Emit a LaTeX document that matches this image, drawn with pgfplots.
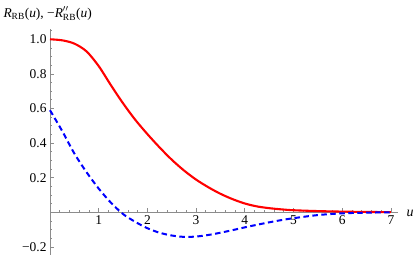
\documentclass[border=0pt]{standalone}
\usepackage{pgfplots}
\pgfplotsset{compat=1.18}
\usepackage{amsmath}
\usepackage{fontspec}
\setmainfont{Liberation Serif}
\definecolor{axgray}{gray}{0.55}
\pgfplotstableread{
u R
0 1.000
0.25 0.994
0.5 0.975
0.75 0.930
1.0 0.845
1.25 0.735
1.5 0.630
1.75 0.535
2.0 0.452
2.25 0.375
2.5 0.304
2.75 0.242
3.0 0.189
3.25 0.145
3.5 0.107
3.75 0.076
4.0 0.051
4.25 0.034
4.5 0.024
4.75 0.017
5.0 0.012
5.5 0.007
6.0 0.004
6.5 0.002
7.0 0.001
}\redtab
\pgfplotstableread{
u D
0 0.590
0.25 0.470
0.5 0.340
0.75 0.232
1.0 0.137
1.25 0.056
1.5 -0.010
1.75 -0.055
2.0 -0.092
2.25 -0.118
2.5 -0.134
2.75 -0.142
3.0 -0.140
3.25 -0.131
3.5 -0.118
3.75 -0.103
4.0 -0.087
4.25 -0.072
4.5 -0.058
4.75 -0.045
5.0 -0.034
5.5 -0.016
6.0 -0.006
6.5 -0.002
7.0 0.000
}\bluetab
\begin{document}
\begin{tikzpicture}
\begin{axis}[
  name=ax, scale only axis, width=348.2bp, height=225.8bp,
  xmin=0, xmax=7.15, ymin=-0.245, ymax=1.06,
  axis lines=middle,
  axis line style={axgray, line width=0.9bp, -},
  xtick={0,1,2,3,4,5,6,7}, xticklabels={,1,2,3,4,5,6,7},
  ytick={-0.2,0,0.2,0.4,0.6,0.8,1.0},
  yticklabels={−0.2,,0.2,0.4,0.6,0.8,1.0},
  minor xtick={0.2,0.4,0.6,0.8,1.2,1.4,1.6,1.8,2.2,2.4,2.6,2.8,3.2,3.4,3.6,3.8,4.2,4.4,4.6,4.8,5.2,5.4,5.6,5.8,6.2,6.4,6.6,6.8},
  minor ytick={-0.15,-0.1,-0.05,0.05,0.1,0.15,0.25,0.3,0.35,0.45,0.5,0.55,0.65,0.7,0.75,0.85,0.9,0.95,1.05},
  tick align=inside,
  major tick length=4.5bp, minor tick length=2.5bp,
  every tick/.style={axgray, line width=0.7bp},
  tick label style={font=\fontsize{13.5}{15}\selectfont},
  clip=false,
  xlabel={\textit{u}},
  every axis x label/.style={at={(axis cs:7.15,0)}, anchor=west, xshift=5bp, yshift=-1.5bp, font=\fontsize{14}{16}\selectfont},
  ylabel={\textit{R}$_{\text{RB}}$(\textit{u}), −\textit{R}$^{\prime\prime}_{\text{RB}}$(\textit{u})},
  every axis y label/.style={at={(axis description cs:0,1)}, anchor=west, xshift=-50bp, yshift=15bp, font=\fontsize{13.5}{16}\selectfont},
]
\addplot[red, line width=2.1bp, smooth] table[x=u, y=R] {\redtab};
\addplot[blue, line width=2bp, smooth, dash pattern=on 5.5bp off 3.5bp] table[x=u, y=D] {\bluetab};
\end{axis}
\pgfresetboundingbox
\path[use as bounding box] ([xshift=-50bp,yshift=-0.3bp]ax.south west) rectangle ([xshift=16.8bp,yshift=28.9bp]ax.north east);
\end{tikzpicture}
\end{document}
